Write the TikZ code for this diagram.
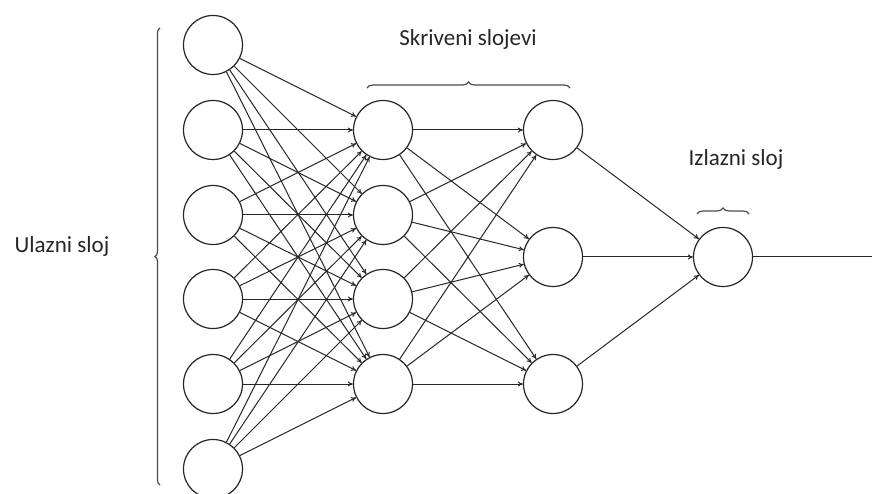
\documentclass[tikz,border=0pt]{standalone}
\usepackage{fontspec}
\setmainfont{Carlito}
\usetikzlibrary{arrows.meta,decorations.pathreplacing}
\begin{document}
\begin{tikzpicture}[x=1pt,y=-1pt,
  neuron/.style={circle,draw=black!85,line width=1.2pt,minimum size=59pt,inner sep=0pt,fill=white},
  conn/.style={draw=black!85,line width=1pt,-{To[length=5pt,width=5pt]}},
  outline/.style={draw=black!85,line width=1pt},
  bracestyle/.style={draw=black!70,line width=1.2pt,decorate},
  lbl/.style={anchor=base,font=\fontsize{23}{27}\selectfont,text=black!85}]
\useasboundingbox (0,0) rectangle (872,494);
% input layer
\foreach \y [count=\k] in {45,130,215,299,384,469}
  \node[neuron] (i\k) at (213,\y) {};
% hidden layer 1
\foreach \y [count=\k] in {130,215,299,384}
  \node[neuron] (h\k) at (383,\y) {};
% hidden layer 2
\foreach \y [count=\k] in {130,257,384}
  \node[neuron] (g\k) at (553,\y) {};
% output
\node[neuron] (o) at (723,257) {};
\coordinate (end) at (872,257);
% connections
\foreach \a in {1,...,6}
  \foreach \b in {1,...,4}
    \draw[conn] (i\a) -- (h\b);
\foreach \a in {1,...,4}
  \foreach \b in {1,...,3}
    \draw[conn] (h\a) -- (g\b);
\foreach \a in {1,...,3}
  \draw[conn] (g\a) -- (o);
\draw[outline] (o) -- (end);
% braces
\draw[bracestyle,decoration={brace,amplitude=5pt}] (160,485) -- (160,28) coordinate[midway] (lb);
\draw[bracestyle,decoration={brace,amplitude=6pt}] (367,88) -- (570,88) coordinate[midway] (tb);
\draw[bracestyle,decoration={brace,amplitude=6pt}] (697,214) -- (749,214) coordinate[midway] (ob);
% labels
\node[lbl] (ulaz) at (62,252) {Ulazni sloj};
\node[lbl] (skriv) at (468,46) {Skriveni slojevi};
\node[lbl] (izlaz) at (736,166) {Izlazni sloj};
\end{tikzpicture}
\end{document}
